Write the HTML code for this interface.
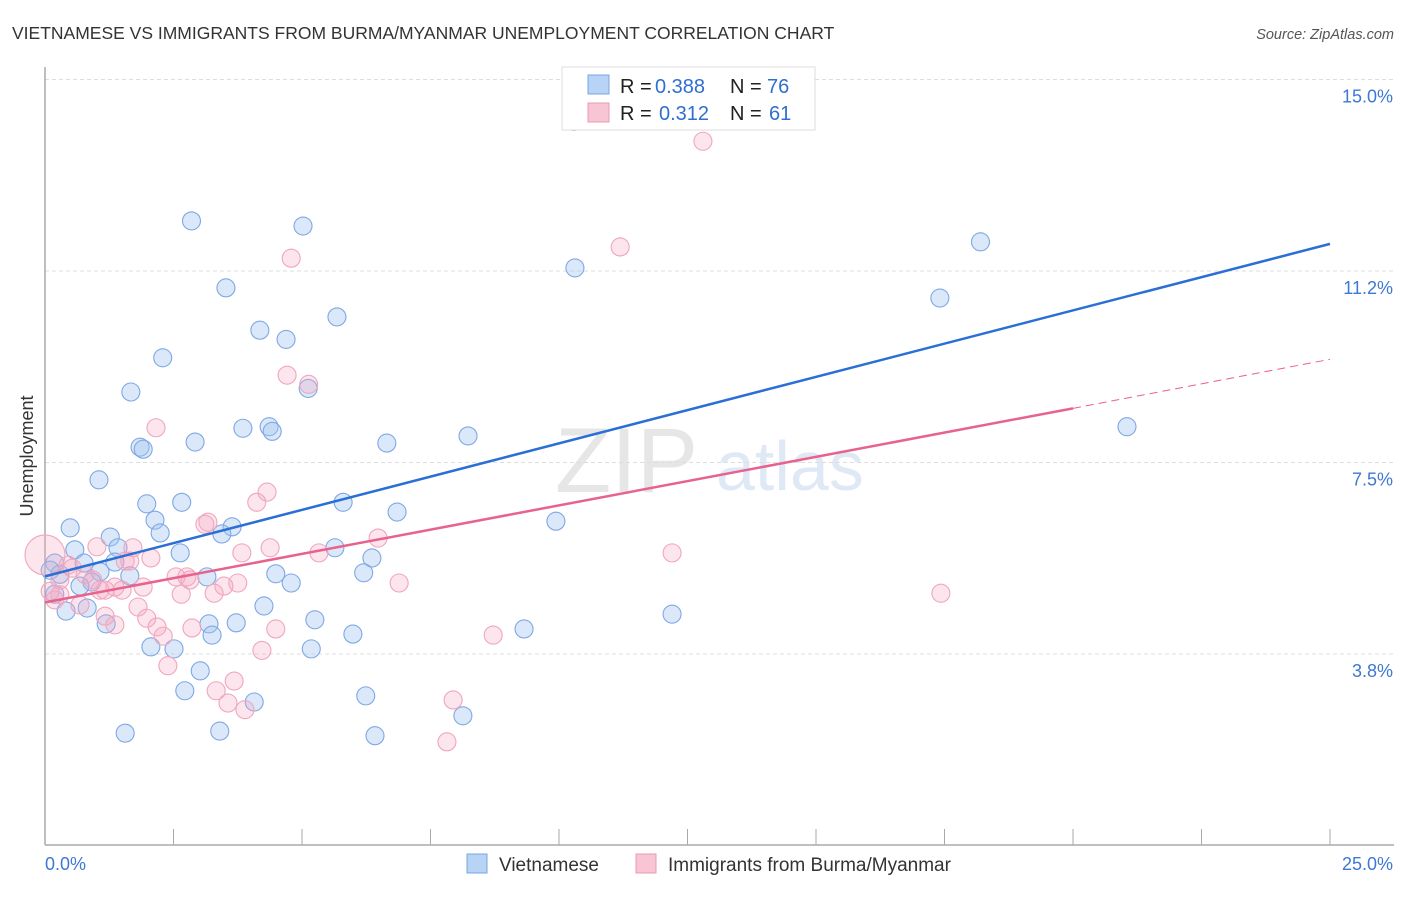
<!DOCTYPE html>
<html><head><meta charset="utf-8"><style>
body{margin:0;background:#fff;font-family:"Liberation Sans",sans-serif;}
svg text{font-family:"Liberation Sans",sans-serif;}
</style></head><body>
<svg id="chart" width="1406" height="892" xmlns="http://www.w3.org/2000/svg">
<text x="12" y="39" font-size="17.5" fill="#333">VIETNAMESE VS IMMIGRANTS FROM BURMA/MYANMAR UNEMPLOYMENT CORRELATION CHART</text>
<text x="1394" y="39" font-size="14.5" fill="#555" text-anchor="end" font-style="italic">Source: ZipAtlas.com</text>
<text x="555" y="492" font-size="92" fill="#e6e6e6" font-family="Liberation Serif">ZIP</text>
<text x="716" y="490" font-size="70" fill="#dfe9f6">atlas</text>
<g id="grid"></g>
<g id="axes"></g>
<g id="pts"></g>
<g id="lines"></g>
<text transform="translate(33,456) rotate(-90)" font-size="18" fill="#333" text-anchor="middle">Unemployment</text>
<g>
<rect x="562" y="67" width="253" height="63" fill="#fff" stroke="#ddd"/>
<rect x="588" y="75" width="21" height="19" fill="#b7d3f5" stroke="#7aa6e0"/>
<rect x="588" y="103" width="21" height="19" fill="#f8c5d4" stroke="#ec98b0"/>
<text x="620" y="93" font-size="20" fill="#222">R =</text>
<text x="655" y="93" font-size="20" fill="#2f6fd0">0.388</text>
<text x="730" y="93" font-size="20" fill="#222">N =</text>
<text x="767" y="93" font-size="20" fill="#2f6fd0">76</text>
<text x="620" y="120" font-size="20" fill="#222">R =</text>
<text x="659" y="120" font-size="20" fill="#2f6fd0">0.312</text>
<text x="730" y="120" font-size="20" fill="#222">N =</text>
<text x="769" y="120" font-size="20" fill="#2f6fd0">61</text>
</g>
<g>
<rect x="467" y="854" width="20" height="19" fill="#b7d3f5" stroke="#7aa6e0"/>
<text x="499" y="871" font-size="19" fill="#333">Vietnamese</text>
<rect x="636" y="854" width="20" height="19" fill="#f8c5d4" stroke="#ec98b0"/>
<text x="668" y="871" font-size="19" fill="#333">Immigrants from Burma/Myanmar</text>
</g>
</svg>
<script>
const yTicks=[3.75,7.5,11.25,15];
const yTickLabels=["3.8%","7.5%","11.2%","15.0%"];
const xTickLabels=["0.0%","25.0%"];
const blueX=[2.85,5.02,10.31,18.2,3.52,17.41,4.18,5.68,4.69,2.29,5.12,1.67,3.85,4.36,4.42,2.92,1.85,1.91,6.65,8.23,21.05,1.05,1.98,2.66,5.8,2.14,0.49,3.64,6.85,9.94,1.27,2.24,3.44,0.58,1.42,2.63,5.64,6.36,0.19,0.1,0.76,1.36,1.07,1.65,3.15,4.49,6.2,4.79,0.29,0.91,0.68,0.19,0.82,0.41,4.26,1.19,3.19,3.72,5.25,12.2,3.25,5.99,9.32,2.06,2.51,5.18,3.02,2.72,4.07,6.24,8.13,1.56,3.4,6.42,10.29,12.49];
const blueY=[12.23,12.13,11.31,11.82,10.92,10.72,10.09,10.35,9.91,9.55,8.95,8.88,8.17,8.2,8.11,7.9,7.8,7.76,7.88,8.02,8.2,7.16,6.69,6.72,6.72,6.37,6.22,6.24,6.53,6.35,6.04,6.12,6.1,5.79,5.83,5.73,5.83,5.63,5.53,5.39,5.53,5.55,5.36,5.28,5.26,5.32,5.34,5.14,5.31,5.16,5.08,4.92,4.65,4.59,4.69,4.34,4.34,4.36,4.42,4.53,4.12,4.14,4.24,3.89,3.85,3.85,3.42,3.03,2.81,2.93,2.54,2.2,2.24,2.15,14.18,14.6];
const pinkX=[12.8,11.19,4.79,4.71,5.13,2.16,4.32,4.12,3.17,3.11,6.48,1.01,1.71,3.83,4.38,5.33,12.2,0,0.45,1.65,2.55,2.76,0.93,6.89,1.36,1.91,3.75,3.48,0.29,1.07,1.5,2.65,3.29,17.43,0.19,0.68,1.81,1.17,1.98,1.36,2.18,2.86,2.3,4.49,8.72,2.39,4.22,3.68,3.33,3.56,3.89,7.94,7.82,0.29,0.1,0.78,2.82,1.56,0.53,1.17,2.06];
const pinkY=[13.79,11.72,11.5,9.21,9.03,8.18,6.92,6.72,6.33,6.29,6.02,5.85,5.83,5.73,5.83,5.73,5.73,5.69,5.49,5.57,5.26,5.26,5.2,5.14,5.06,5.06,5.14,5.08,4.91,5.0,5.0,4.92,4.94,4.94,4.81,4.71,4.67,4.49,4.45,4.32,4.28,4.26,4.1,4.24,4.12,3.52,3.82,3.22,3.03,2.79,2.66,2.85,2.03,5.2,4.98,5.31,5.2,5.57,5.43,5.0,5.63];
const pinkR=[9,9,9,9,9,9,9,9,9,9,9,9,9,9,9,9,9,20,9,9,9,9,9,9,9,9,9,9,9,9,9,9,9,9,9,9,9,9,9,9,9,9,9,9,9,9,9,9,9,9,9,9,9,9,9,9,9,9,9,9,9];
const blueTrend=[5.27,11.78];
const pinkTrend=[4.76,8.56,9.52];
const pinkSolidEnd=20;
const X0=45,X1=1330,Y0=845.5,PXPER=51.07;
function xs(v){return X0+(X1-X0)*v/25;}
function ys(v){return Y0-v*PXPER;}
const NS="http://www.w3.org/2000/svg";
function mk(tag,attrs,parent){const e=document.createElementNS(NS,tag);for(const k in attrs)e.setAttribute(k,attrs[k]);parent.appendChild(e);return e;}
const grid=document.getElementById('grid'),axes=document.getElementById('axes'),pts=document.getElementById('pts'),lines=document.getElementById('lines');
yTicks.forEach((t,i)=>{
 const g=mk('line',{x1:45,x2:1394,y1:ys(t),y2:ys(t),stroke:'#ddd','stroke-dasharray':'4,3'},grid);
 
 
 const tx=mk('text',{x:1393,y:ys(t)+23,'font-size':18,fill:'#3d78d4','text-anchor':'end'},axes);
 tx.textContent=yTickLabels[i];
 
 
});
const ya=mk('line',{x1:45,x2:45,y1:67,y2:845,stroke:'#aaa','stroke-width':1.5},axes);


const xa=mk('line',{x1:45,x2:1394,y1:845,y2:845,stroke:'#aaa','stroke-width':1.5},axes);


for(let i=1;i<=10;i++){
 const t=mk('line',{x1:xs(i*2.5),x2:xs(i*2.5),y1:829,y2:845,stroke:'#aaa'},axes);
 
 
}
[[0,'start',45],[1,'end',1393]].forEach(([i,a,x])=>{
 const tx=mk('text',{x:x,y:870,'font-size':18,fill:'#3d78d4','text-anchor':a},axes);
 tx.textContent=xTickLabels[i];
 
 
});
blueX.forEach((v,i)=>{
 const c=mk('circle',{cx:xs(v),cy:ys(blueY[i]),r:9,fill:'rgba(160,195,240,0.38)',stroke:'#7ea8e4','stroke-width':1.1},pts);
 
 
});
pinkX.forEach((v,i)=>{
 const c=mk('circle',{cx:xs(v),cy:ys(pinkY[i]),r:pinkR[i],fill:'rgba(245,170,195,0.3)',stroke:'#f0a6bd','stroke-width':1.1},pts);
 
 
});
const bl=mk('line',{x1:xs(0),y1:ys(blueTrend[0]),x2:xs(25),y2:ys(blueTrend[1]),stroke:'#2a6fd6','stroke-width':2.5},lines);


const pl=mk('line',{x1:xs(0),y1:ys(pinkTrend[0]),x2:xs(pinkSolidEnd),y2:ys(pinkTrend[1]),stroke:'#e8628e','stroke-width':2.5},lines);


const pd=mk('line',{x1:xs(pinkSolidEnd),y1:ys(pinkTrend[1]),x2:xs(25),y2:ys(pinkTrend[2]),stroke:'#e8628e','stroke-width':1,'stroke-dasharray':'8,5'},lines);


</script>
</body></html>
